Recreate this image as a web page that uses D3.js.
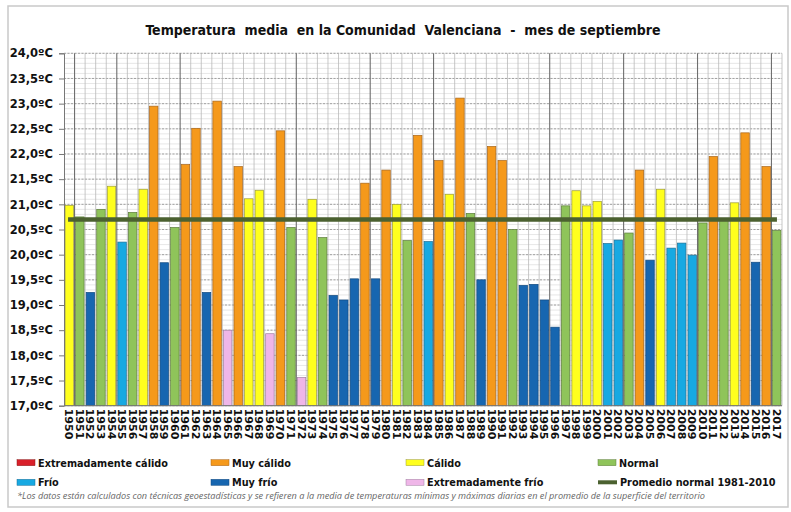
<!DOCTYPE html>
<html><head><meta charset="utf-8">
<script src="https://cdn.jsdelivr.net/npm/d3@7"></script>
<style>
body{margin:0;background:#fff;}
svg{display:block;font-family:"DejaVu Sans",Verdana,sans-serif;}
.cond{font-family:"DejaVu Sans Condensed","DejaVu Sans",sans-serif;font-stretch:condensed;}
</style></head>
<body><svg id="c" width="791" height="512"></svg>
<script>
const years = [1950,1951,1952,1953,1954,1955,1956,1957,1958,1959,
1960,1961,1962,1963,1964,1965,1966,1967,1968,1969,
1970,1971,1972,1973,1974,1975,1976,1977,1978,1979,
1980,1981,1982,1983,1984,1985,1986,1987,1988,1989,
1990,1991,1992,1993,1994,1995,1996,1997,1998,1999,
2000,2001,2002,2003,2004,2005,2006,2007,2008,2009,
2010,2011,2012,2013,2014,2015,2016,2017];
const temps = [20.98,20.75,19.25,20.90,21.36,20.25,20.84,21.30,22.95,19.84,
20.54,21.79,22.51,19.25,23.05,18.50,21.75,21.11,21.28,18.43,
22.46,20.54,17.56,21.10,20.34,19.19,19.10,19.52,21.42,19.52,
21.68,21.00,20.28,22.37,20.26,21.87,21.20,23.11,20.82,19.50,
22.15,21.87,20.50,19.39,19.41,19.10,18.56,20.97,21.27,20.97,
21.06,20.22,20.29,20.43,21.68,19.89,21.30,20.13,20.23,19.99,
20.63,21.95,20.72,21.03,22.42,19.85,21.75,20.48];
const classes = ["C","N","MF","N","C","F","N","C","MC","MF",
"N","MC","MC","MF","MC","EF","MC","C","C","EF",
"MC","N","EF","C","N","MF","MF","MF","MC","MF",
"MC","C","N","MC","F","MC","C","MC","N","MF",
"MC","MC","N","MF","MF","MF","MF","N","C","C",
"C","F","F","N","MC","MF","C","F","F","F",
"N","MC","N","C","MC","MF","MC","N"];
const normal19812010 = 20.70;
const classKeys = ["EC","MC","C","N","F","MF","EF"];
const classLabels = ["Extremadamente cálido","Muy cálido","Cálido","Normal","Frío","Muy frío","Extremadamente frío"];
const lineLabel = "Promedio normal 1981-2010";
const yTicks = [17,17.5,18,18.5,19,19.5,20,20.5,21,21.5,22,22.5,23,23.5,24];
const titleText = "Temperatura  media  en la Comunidad  Valenciana  -  mes de septiembre";
const footnote = "*Los datos están calculados con técnicas geoestadísticas y se refieren a la media de temperaturas mínimas y máximas diarias en el promedio de la superficie del territorio";

const fillColor = {EC:"#d9202a",MC:"#f5991b",C:"#ffff1e",N:"#8fc45a",F:"#17a9e2",MF:"#1766b0",EF:"#efb6e8"};
const strokeColor = {EC:"#8a1a1a",MC:"#a8651a",C:"#9a9a3a",N:"#5d7d3b",F:"#1a6f96",MF:"#124a80",EF:"#a080a0"};
const lineColor = "#4b6130";

const svg = d3.select("#c");
const L = 64, R = 782, T = 53.3, B = 405.7;

// frame
svg.append("rect").attr("x",8).attr("y",6).attr("width",780).attr("height",501)
  .attr("fill","#fff").attr("stroke","#c9c9c9").attr("stroke-width",1.5);

const x = d3.scaleBand().domain(years).range([L,R]).paddingInner(0.2).paddingOuter(0.1);
const y = d3.scaleLinear().domain([17,24]).range([B,T]);
const step = x.step();

// horizontal minor grid
const minor = d3.range(170,241).map(d=>d/10);
svg.append("g").selectAll("line").data(minor).join("line")
  .attr("x1",L).attr("x2",R).attr("y1",d=>y(d)).attr("y2",d=>y(d))
  .attr("stroke","#dcdcdc").attr("stroke-width",0.7);
// major dashed
svg.append("g").selectAll("line").data(yTicks).join("line")
  .attr("x1",L).attr("x2",R).attr("y1",d=>y(d)).attr("y2",d=>y(d))
  .attr("stroke","#9a9a9a").attr("stroke-width",0.9).attr("stroke-dasharray","2,1.5");
// vertical grid
const darkIdx = [1,5,11,22,29,35,46,53,60,67];
svg.append("g").selectAll("line").data(d3.range(1,years.length+1)).join("line")
  .attr("x1",i=>x(years[0]) - step*0.1 + i*step).attr("x2",i=>x(years[0]) - step*0.1 + i*step)
  .attr("y1",T).attr("y2",B)
  .attr("stroke",i=>darkIdx.includes(i)?"#6e6e6e":"#b9b9b9")
  .attr("stroke-width",i=>darkIdx.includes(i)?1.1:0.8);

// bars
svg.append("g").selectAll("rect").data(years).join("rect")
  .attr("x",d=>x(d)).attr("width",x.bandwidth())
  .attr("y",(d,i)=>y(temps[i])).attr("height",(d,i)=>y(17)-y(temps[i]))
  .attr("fill",(d,i)=>fillColor[classes[i]])
  .attr("stroke",(d,i)=>strokeColor[classes[i]]).attr("stroke-width",0.7);

// normal line with soft shadow
const defs = svg.append("defs");
const f = defs.append("filter").attr("id","blur").attr("x","-5%").attr("y","-200%").attr("width","110%").attr("height","500%");
f.append("feGaussianBlur").attr("stdDeviation",2);
const x1 = x(years[0])+3, x2 = x(years[years.length-1])+x.bandwidth()-4;
svg.append("line").attr("x1",x1).attr("x2",x2).attr("y1",y(normal19812010)+1.5).attr("y2",y(normal19812010)+1.5)
  .attr("stroke","#555").attr("stroke-opacity",0.6).attr("stroke-width",6).attr("filter","url(#blur)");
svg.append("line").attr("x1",x1).attr("x2",x2).attr("y1",y(normal19812010)).attr("y2",y(normal19812010))
  .attr("stroke",lineColor).attr("stroke-width",4.5);

// y axis
const fmt = d => d.toFixed(1).replace(".",",") + "ºC";
const ya = svg.append("g").attr("transform",`translate(${L},0)`)
  .call(d3.axisLeft(y).tickValues(yTicks).tickFormat(fmt).tickSize(5).tickPadding(6));
ya.select(".domain").attr("stroke","#777");
ya.selectAll(".tick line").attr("stroke","#777");
ya.selectAll("text").attr("font-size","11.5px").attr("font-weight","bold").attr("fill","#111")
  .attr("font-family","'DejaVu Sans',Verdana,sans-serif");
// bottom axis line
svg.append("line").attr("x1",L).attr("x2",R).attr("y1",B).attr("y2",B).attr("stroke","#777");

// x labels
svg.append("g").selectAll("text").data(years).join("text")
  .attr("transform",d=>`translate(${x(d)+x.bandwidth()/2},${B+3}) rotate(90)`)
  .attr("dy","0.36em").attr("font-size","11px").attr("font-weight","bold").attr("fill","#111")
  .text(d=>d);

// title
svg.append("text").attr("class","cond").attr("x",403).attr("y",35).attr("text-anchor","middle")
  .attr("font-size","14px").attr("font-weight","bold").attr("fill","#111")
  .style("white-space","pre").text(titleText);

// legend
const colX = [17,211,406,598];
const rowY = [462.7,482.3];
const items = classKeys.map((k,i)=>({key:k,label:classLabels[i]}));
const lg = svg.append("g");
items.forEach((it,i)=>{
  const cx = colX[i%4], cy = rowY[Math.floor(i/4)];
  lg.append("rect").attr("x",cx).attr("y",cy-3).attr("width",18).attr("height",6)
    .attr("fill",fillColor[it.key]).attr("stroke",strokeColor[it.key]).attr("stroke-width",0.5);
  lg.append("text").attr("class","cond").attr("x",cx+21).attr("y",cy).attr("dy","0.36em")
    .attr("font-size","10.8px").attr("font-weight","bold").attr("fill","#111").text(it.label);
});
lg.append("line").attr("x1",colX[3]).attr("x2",colX[3]+19).attr("y1",rowY[1]).attr("y2",rowY[1])
  .attr("stroke",lineColor).attr("stroke-width",4);
lg.append("text").attr("class","cond").attr("x",colX[3]+22).attr("y",rowY[1]).attr("dy","0.36em")
  .attr("font-size","10.8px").attr("font-weight","bold").attr("fill","#111").text(lineLabel);

svg.append("text").attr("x",17).attr("y",499).attr("font-size","9.5px").attr("font-style","italic")
  .attr("font-family","'Open Sans',sans-serif").attr("fill","#666")
  .attr("textLength",688).attr("lengthAdjust","spacingAndGlyphs").text(footnote);
</script></body></html>
